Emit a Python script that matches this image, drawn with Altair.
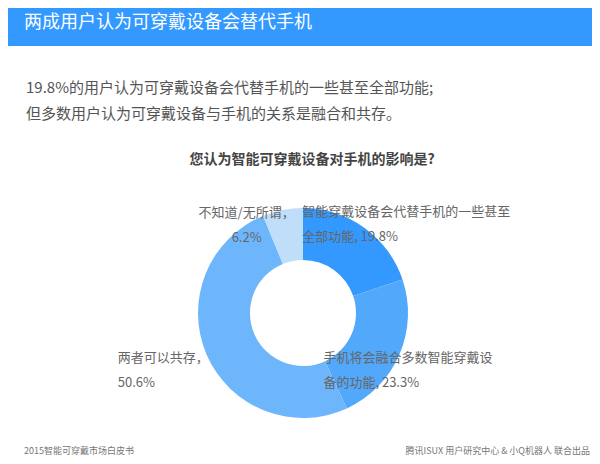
import altair as alt
import pandas as pd

# ---- data ----
categories = [
    "智能穿戴设备会代替手机的一些甚至全部功能",
    "手机将会融合多数智能穿戴设备的功能",
    "两者可以共存",
    "不知道/无所谓",
]
values = [19.8, 23.3, 50.6, 6.2]
colors = ["#3399ff", "#52a8fb", "#6db6fb", "#c0ddfa"]
label_line1 = ["智能穿戴设备会代替手机的一些甚至", "手机将会融合多数智能穿戴设", "两者可以共存，", "不知道/无所谓，"]
label_line2 = ["全部功能, 19.8%", "备的功能, 23.3%", "50.6%", "6.2%"]

title_text = "两成用户认为可穿戴设备会替代手机"
subtitle_lines = [
    "19.8%的用户认为可穿戴设备会代替手机的一些甚至全部功能;",
    "但多数用户认为可穿戴设备与手机的关系是融合和共存。",
]
question = "您认为智能可穿戴设备对手机的影响是?"
footer_left = "2015智能可穿戴市场白皮书"
footer_right = "腾讯ISUX  用户研究中心 & 小Q机器人  联合出品"

FONT = "Noto Sans CJK SC"

df = pd.DataFrame({
    "idx": list(range(len(values))),
    "category": categories,
    "value": values,
    "label": [a + "\n" + b for a, b in zip(label_line1, label_line2)],
})
total = sum(values)
theta_scale = alt.Scale(domain=[0, total])

base = alt.Chart(df)

arc = base.mark_arc(innerRadius=53, outerRadius=105).encode(
    theta=alt.Theta("value:Q", stack=True, scale=theta_scale),
    color=alt.Color("category:N", scale=alt.Scale(domain=categories, range=colors), legend=None),
    order=alt.Order("idx:Q"),
)

label_layout = [
    dict(align="left", dx=-62, dy=-16),
    dict(align="left", dx=-76, dy=3),
    dict(align="left", dx=-89, dy=3),
    dict(align="center", dx=-36, dy=3),
]
label_layers = []
for i, lay in enumerate(label_layout):
    t = (
        base.transform_window(cum="sum(value)", sort=[alt.SortField("idx")], frame=[None, 0])
        .transform_calculate(mid="datum.cum - datum.value / 2")
        .transform_filter(alt.datum.idx == i)
        .mark_text(font=FONT, fontSize=13, color="#666666", lineBreak="\n",
                   lineHeight=25, baseline="middle", **lay)
        .encode(
            theta=alt.Theta("mid:Q", stack=False, scale=theta_scale),
            radius=alt.value(105),
            text="label:N",
        )
    )
    label_layers.append(t)

deco = alt.Chart(pd.DataFrame({"k": [0]}))

bar = deco.mark_rect(color="#3399ff").encode(
    x=alt.value(-14), x2=alt.value(586), y=alt.value(-170), y2=alt.value(-124)
)
title = deco.mark_text(font=FONT, fontSize=18, color="white", align="left", baseline="middle").encode(
    x=alt.value(10), y=alt.value(-147), text=alt.value(title_text)
)
subtitle = deco.mark_text(font=FONT, fontSize=15, color="#555555", align="left", baseline="middle",
                          lineBreak="\n", lineHeight=26).encode(
    x=alt.value(12), y=alt.value(-82), text=alt.value("\n".join(subtitle_lines))
)
q = deco.mark_text(font=FONT, fontSize=14, fontWeight="bold", color="#444444", align="center",
                   baseline="middle").encode(
    x=alt.value(298), y=alt.value(-10), text=alt.value(question)
)
f_left = deco.mark_text(font=FONT, fontSize=9, color="#777777", align="left", baseline="middle").encode(
    x=alt.value(10), y=alt.value(281), text=alt.value(footer_left)
)
f_right = deco.mark_text(font=FONT, fontSize=9, color="#777777", align="right", baseline="middle").encode(
    x=alt.value(576), y=alt.value(281), text=alt.value(footer_right)
)

chart = alt.layer(arc, *label_layers, bar, title, subtitle, q, f_left, f_right).properties(
    width=578,
    height=286,
    padding={"left": 6, "top": 162, "right": 0, "bottom": 0},
    autosize=alt.AutoSizeParams(type="none"),
    background="white",
).configure_view(stroke=None)

chart.save("out.html", embed_options={"renderer": "svg", "actions": False})
